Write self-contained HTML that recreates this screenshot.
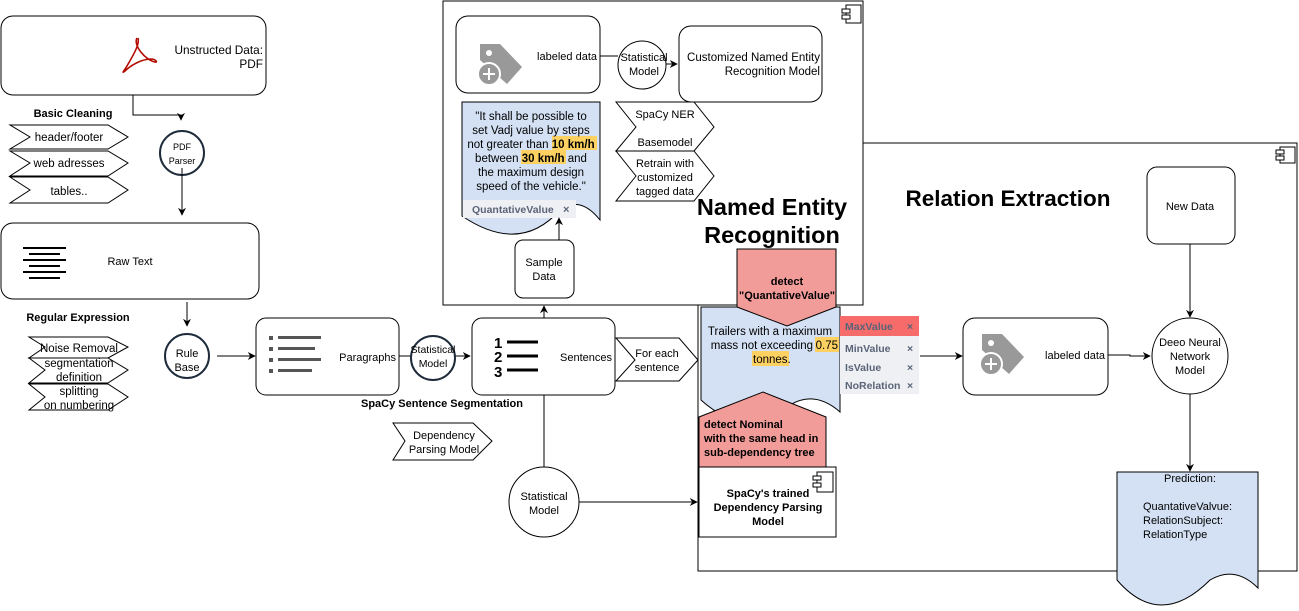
<!DOCTYPE html>
<html><head><meta charset="utf-8"><style>
body{margin:0;background:#fff}
svg{display:block;font-family:"Liberation Sans",Arial,sans-serif}
</style></head><body>
<svg width="1299" height="611" viewBox="0 0 1299 611" xmlns="http://www.w3.org/2000/svg">
<defs>
<marker id="a" viewBox="0 0 10 10" refX="9" refY="5" markerWidth="8" markerHeight="8" orient="auto"><path d="M0,0 L10,5 L0,10 L3,5 z" fill="#000"/></marker>
</defs>
<g font-size="11" fill="#000">
<rect x="698" y="143" width="599" height="428" fill="#fff" stroke="#000"/>
<g transform="translate(1276,147)" fill="#fff" stroke="#000"><rect x="4" y="0" width="15" height="16"/><rect x="0" y="3" width="8" height="4"/><rect x="0" y="9" width="8" height="4"/></g>
<text x="1008" y="206" font-size="22.5" font-weight="bold" text-anchor="middle">Relation Extraction</text>
<rect x="443" y="1" width="420" height="304" fill="#fff" stroke="#000"/>
<g transform="translate(842,5)" fill="#fff" stroke="#000"><rect x="4" y="0" width="15" height="18"/><rect x="0" y="4" width="8" height="4"/><rect x="0" y="10" width="8" height="4"/></g>

<rect x="1" y="16" width="265" height="79" rx="12" fill="#fff" stroke="#000"/>
<path d="M137,38 C133,45 145,60 155,62 C158,63 156,59 151,59 C142,59 131,65 125,71 C121,74 124,71 127,66 C132,57 140,45 138,38" fill="none" stroke="#b30b00" stroke-width="1.6"/>
<text x="263" y="54" font-size="11.8" text-anchor="end">Unstructed Data:</text>
<text x="263" y="68" font-size="11.8" text-anchor="end">PDF</text>
<polyline points="133,95 133,115 181,115 181,120" fill="none" stroke="#000" marker-end="url(#a)"/>
<text x="73" y="117" font-weight="bold" text-anchor="middle">Basic Cleaning</text>
<g fill="#fff" stroke="#000">
<polygon points="10,125 108,125 128,137 108,149 10,149 30,137"/>
<polygon points="10,151 108,151 128,163 108,176 10,176 30,163"/>
<polygon points="10,177 108,177 128,190 108,203 10,203 30,190"/>
</g>
<text x="69" y="141" font-size="11.5" text-anchor="middle">header/footer</text>
<text x="69" y="167" font-size="11.5" text-anchor="middle">web adresses</text>
<text x="69" y="195" font-size="11.5" text-anchor="middle">tables..</text>
<circle cx="182" cy="153" r="22" fill="#fff" stroke="#1d2b3a" stroke-width="2"/>
<text x="182" y="150" font-size="9" text-anchor="middle">PDF</text>
<text x="182" y="164" font-size="9" text-anchor="middle">Parser</text>
<line x1="182" y1="168" x2="182" y2="215" stroke="#000" marker-end="url(#a)"/>
<rect x="1" y="223" width="258" height="76" rx="12" fill="#fff" stroke="#000"/>
<g stroke="#000" stroke-width="2"><line x1="23" y1="248" x2="66" y2="248"/><line x1="29" y1="254" x2="60" y2="254"/><line x1="23" y1="260" x2="66" y2="260"/><line x1="29" y1="266" x2="60" y2="266"/><line x1="23" y1="272" x2="66" y2="272"/><line x1="29" y1="278" x2="60" y2="278"/></g>
<text x="130" y="265" text-anchor="middle">Raw Text</text>
<text x="78" y="321" font-weight="bold" text-anchor="middle">Regular Expression</text>
<g fill="#fff" stroke="#000">
<polygon points="29,337 108,337 128,347 108,358 29,358 45,347"/>
<polygon points="29,358 108,358 128,370 108,383 29,383 45,370"/>
<polygon points="29,384 108,384 128,397 108,410 29,410 45,397"/>
</g>
<text x="79" y="352" font-size="11.5" text-anchor="middle">Noise Removal</text>
<text x="79" y="367" font-size="11.5" text-anchor="middle">segmentation</text>
<text x="79" y="381" font-size="11.5" text-anchor="middle">definition</text>
<text x="79" y="395" font-size="11.5" text-anchor="middle">splitting</text>
<text x="79" y="409" font-size="11.5" text-anchor="middle">on numbering</text>
<line x1="187" y1="302" x2="187" y2="326" stroke="#000" marker-end="url(#a)"/>
<circle cx="187" cy="356" r="22" fill="#fff" stroke="#1d2b3a" stroke-width="2"/>
<text x="187" y="357" text-anchor="middle">Rule</text>
<text x="187" y="371" text-anchor="middle">Base</text>
<line x1="217" y1="356" x2="255" y2="356" stroke="#000" marker-end="url(#a)"/>
<rect x="256" y="318" width="143" height="77" rx="10" fill="#fff" stroke="#000"/>
<g fill="#555"><rect x="269" y="336" width="4" height="4"/><rect x="269" y="347" width="4" height="4"/><rect x="269" y="358" width="4" height="4"/><rect x="269" y="369" width="4" height="4"/>
<rect x="278" y="336" width="43" height="3"/><rect x="278" y="347" width="37" height="3"/><rect x="278" y="358" width="43" height="3"/><rect x="278" y="369" width="34" height="3"/></g>
<text x="396" y="361" text-anchor="end">Paragraphs</text>
<line x1="399" y1="356" x2="470" y2="356" stroke="#000" marker-end="url(#a)"/>
<circle cx="433" cy="358" r="22" fill="#fff" stroke="#1d2b3a" stroke-width="2"/>
<text x="433" y="353" font-size="10.5" text-anchor="middle">Statistical</text>
<text x="433" y="367" font-size="10.5" text-anchor="middle">Model</text>
<rect x="472" y="318" width="143" height="77" rx="10" fill="#fff" stroke="#000"/>
<g font-weight="bold" font-size="15"><text x="494" y="348">1</text><text x="494" y="362">2</text><text x="494" y="377">3</text></g>
<g stroke="#000" stroke-width="3"><line x1="507" y1="342" x2="538" y2="342"/><line x1="507" y1="356" x2="538" y2="356"/><line x1="507" y1="370" x2="538" y2="370"/></g>
<text x="612" y="361" text-anchor="end">Sentences</text>
<polygon points="616,338 679,338 698,360 679,381 616,381 635,360" fill="#fff" stroke="#000"/>
<text x="657" y="357" text-anchor="middle">For each</text>
<text x="657" y="371" text-anchor="middle">sentence</text>
<text x="442" y="407" font-weight="bold" text-anchor="middle">SpaCy Sentence Segmentation</text>
<polygon points="393,423 473,423 492,441 473,460 393,460 405,441" fill="#fff" stroke="#000"/>
<text x="444" y="439" text-anchor="middle">Dependency</text>
<text x="444" y="453" text-anchor="middle">Parsing Model</text>
<line x1="544" y1="395" x2="544" y2="467" stroke="#000"/>
<circle cx="544" cy="502" r="35" fill="#fff" stroke="#000"/>
<text x="544" y="500" text-anchor="middle">Statistical</text>
<text x="544" y="514" text-anchor="middle">Model</text>
<line x1="579" y1="502" x2="697" y2="502" stroke="#000" marker-end="url(#a)"/>
<line x1="544" y1="318" x2="544" y2="306" stroke="#000" marker-end="url(#a)"/>

<rect x="456" y="16" width="144" height="77" rx="12" fill="#fff" stroke="#000"/>
<path d="M480,44 L500,44 L522,67 L507,84 L480,60 z" fill="#999"/>
<circle cx="489" cy="53" r="3" fill="#fff"/>
<circle cx="489" cy="74" r="11" fill="#999" stroke="#fff" stroke-width="2"/>
<path d="M483,74 h12 M489,68 v12" stroke="#fff" stroke-width="2"/>
<text x="597" y="60" text-anchor="end">labeled data</text>
<line x1="600" y1="56" x2="618" y2="56" stroke="#000"/>
<circle cx="642" cy="65" r="24" fill="#fff" stroke="#000"/>
<text x="644" y="61" text-anchor="middle">Statistical</text>
<text x="644" y="75" text-anchor="middle">Model</text>
<line x1="666" y1="64" x2="677" y2="64" stroke="#000" marker-end="url(#a)"/>
<rect x="679" y="26" width="143" height="76" rx="12" fill="#fff" stroke="#000"/>
<text x="820" y="61" font-size="11.5" text-anchor="end">Customized Named Entity</text>
<text x="820" y="75" font-size="11.5" text-anchor="end">Recognition Model</text>
<path d="M462,102 L600,102 L600,220 Q580,195 560,210 Q520,255 462,216 z" fill="#d4e1f4" stroke="#000"/>
<g text-anchor="middle" font-size="11.5">
<rect x="552" y="136" width="45" height="14" fill="#fcd161"/>
<rect x="521" y="150" width="45" height="14" fill="#fcd161"/>
<text x="531" y="120">"It shall be possible to</text>
<text x="531" y="134">set Vadj value by steps</text>
<text x="531" y="148">not greater than <tspan font-weight="bold">10 km/h</tspan></text>
<text x="531" y="162">between <tspan font-weight="bold">30 km/h</tspan> and</text>
<text x="531" y="176">the maximum design</text>
<text x="531" y="190">speed of the vehicle."</text>
</g>
<rect x="463" y="200" width="113" height="18" fill="#eef0f4"/>
<text x="472" y="213" font-size="10.5" font-weight="bold" fill="#5a6478">QuantativeValue</text>
<text x="563" y="213" font-size="11" font-weight="bold" fill="#5a6478">×</text>
<rect x="515" y="240" width="59" height="58" rx="8" fill="#fff" stroke="#000"/>
<text x="544" y="266" text-anchor="middle">Sample</text>
<text x="544" y="280" text-anchor="middle">Data</text>
<line x1="559" y1="240" x2="559" y2="218" stroke="#000" marker-end="url(#a)"/>
<polygon points="616,102 694,102 714,127 694,151 616,151 636,127" fill="#fff" stroke="#000"/>
<polygon points="616,151 694,151 714,176 694,201 616,201 636,176" fill="#fff" stroke="#000"/>
<text x="665" y="118" text-anchor="middle">SpaCy NER</text>
<text x="665" y="146" text-anchor="middle">Basemodel</text>
<text x="665" y="167" text-anchor="middle">Retrain with</text>
<text x="665" y="181" text-anchor="middle">customized</text>
<text x="665" y="195" text-anchor="middle">tagged data</text>
<text x="772" y="215" font-size="23.5" font-weight="bold" text-anchor="middle">Named Entity</text>
<text x="772" y="243" font-size="23.5" font-weight="bold" text-anchor="middle">Recognition</text>

<path d="M701,307 L840,307 L840,412 Q815,390 790,405 Q745,440 701,400 z" fill="#d4e1f4" stroke="#000"/>
<rect x="815" y="337" width="24" height="15" fill="#fcd161"/>
<rect x="752" y="351" width="37" height="15" fill="#fcd161"/>
<g font-size="11.5"><text x="770" y="335" text-anchor="middle">Trailers with a maximum</text>
<text x="813" y="349" text-anchor="end">mass not exceeding</text>
<text x="838" y="349" text-anchor="end">0.75</text>
<text x="753" y="363">tonnes.</text></g>
<polygon points="737,249 836,249 836,307 787,326 737,307" fill="#f19c99" stroke="#000"/>
<text x="787" y="285" font-weight="bold" text-anchor="middle">detect</text>
<text x="787" y="299" font-weight="bold" text-anchor="middle">"QuantativeValue"</text>
<polygon points="699,417 763,392 826,417 826,467 699,467" fill="#f19c99" stroke="#000"/>
<g font-weight="bold"><text x="704" y="428">detect Nominal</text><text x="704" y="442">with the same head in</text><text x="704" y="456">sub-dependency tree</text></g>
<rect x="699" y="467" width="137" height="70" fill="#fff" stroke="#000"/>
<g transform="translate(813,472)" fill="#fff" stroke="#000"><rect x="4" y="0" width="16" height="20"/><rect x="0" y="4" width="8" height="4"/><rect x="0" y="11" width="8" height="4"/></g>
<g font-weight="bold" text-anchor="middle"><text x="768" y="497">SpaCy's trained</text><text x="768" y="511">Dependency Parsing</text><text x="768" y="525">Model</text></g>
<rect x="840" y="316" width="79" height="78" fill="#eef0f4"/>
<rect x="840" y="316" width="79" height="20" fill="#f76b6b"/>
<g font-size="10.5" font-weight="bold" fill="#5a6478">
<text x="845" y="330">MaxValue</text><text x="907" y="330">×</text>
<text x="845" y="352">MinValue</text><text x="907" y="352">×</text>
<text x="845" y="371">IsValue</text><text x="907" y="371">×</text>
<text x="845" y="389">NoRelation</text><text x="907" y="389">×</text></g>
<line x1="920" y1="356" x2="962" y2="356" stroke="#000" marker-end="url(#a)"/>
<rect x="963" y="318" width="145" height="77" rx="12" fill="#fff" stroke="#000"/>
<path d="M982,334 L1002,334 L1024,357 L1009,374 L982,350 z" fill="#999"/>
<circle cx="991" cy="343" r="3" fill="#fff"/>
<circle cx="991" cy="364" r="11" fill="#999" stroke="#fff" stroke-width="2"/>
<path d="M985,364 h12 M991,358 v12" stroke="#fff" stroke-width="2"/>
<text x="1105" y="359" text-anchor="end">labeled data</text>
<polyline points="1108,355 1130,355 1130,356 1150,356" fill="none" stroke="#000" marker-end="url(#a)"/>
<rect x="1147" y="167" width="88" height="77" rx="10" fill="#fff" stroke="#000"/>
<text x="1190" y="210" text-anchor="middle">New Data</text>
<line x1="1190" y1="244" x2="1190" y2="317" stroke="#000" marker-end="url(#a)"/>
<circle cx="1190" cy="356" r="38" fill="#fff" stroke="#000"/>
<g text-anchor="middle"><text x="1190" y="346">Deeo Neural</text><text x="1190" y="360">Network</text><text x="1190" y="374">Model</text></g>
<line x1="1190" y1="394" x2="1190" y2="471" stroke="#000" marker-end="url(#a)"/>
<path d="M1117,472 L1258,472 L1258,588 Q1235,565 1210,580 Q1160,630 1117,580 z" fill="#d4e1f4" stroke="#000"/>
<text x="1190" y="482" text-anchor="middle">Prediction:</text>
<text x="1143" y="510">QuantativeValvue:</text>
<text x="1143" y="524">RelationSubject:</text>
<text x="1143" y="538">RelationType</text>
</g>
</svg>
</body></html>
